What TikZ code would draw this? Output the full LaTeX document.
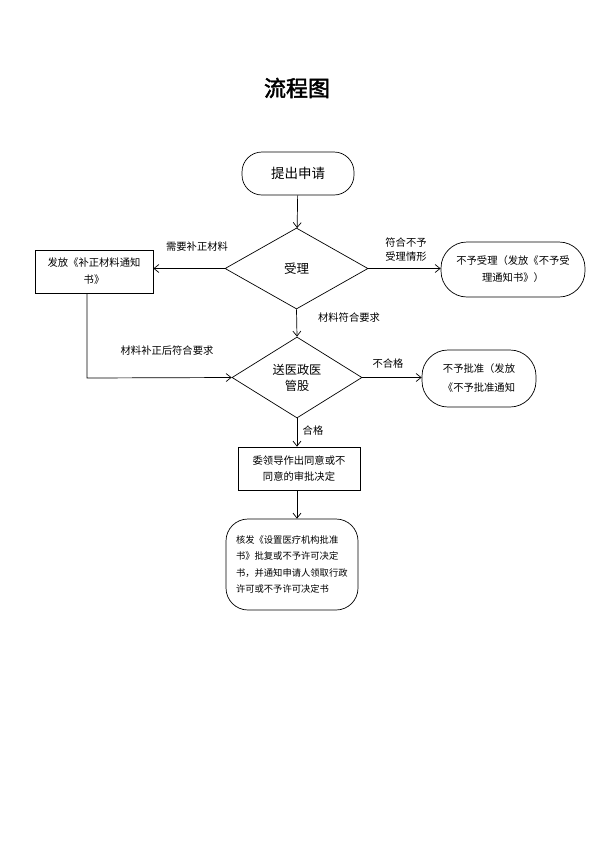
\documentclass[tikz,border=0pt]{standalone}
\usepackage{fontspec}
\setmainfont{Noto Sans CJK SC}[AutoFakeBold=2]
\usetikzlibrary{shapes.geometric,arrows.meta}
\tikzset{
  ln/.style={draw=black, line width=0.7pt},
  arr/.style={ln, -{Straight Barb[length=5pt,width=8pt]}},
  term/.style={ln, rectangle, inner sep=0pt, align=center},
  proc/.style={ln, rectangle, inner sep=0pt, align=center},
  dec/.style={ln, diamond, inner sep=0pt, align=center},
  lbl/.style={inner sep=0pt, align=center, font=\fontsize{10.3}{14}\selectfont},
  txt/.style={font=\fontsize{10.3}{17}\selectfont}
}
\begin{document}
\begin{tikzpicture}[x=1pt,y=-1pt]
\useasboundingbox (0,0) rectangle (595,841);
\node[inner sep=0pt, font=\fontsize{22}{26}\selectfont\bfseries] (title) at (297,88) {流程图};

\node[term, minimum width=112pt, minimum height=43pt, rounded corners=20pt, font=\fontsize{13.5}{16}\selectfont] (start) at (298,173.5) {提出申请};

\node[dec, minimum width=143pt, minimum height=81pt, font=\fontsize{12.5}{15}\selectfont] (d1) at (296.5,268.5) {受理};

\node[proc, minimum width=118pt, minimum height=43pt, txt, text width=110pt] (b1) at (94,271.5) {发放《补正材料通知\\书》};

\node[term, minimum width=144pt, minimum height=55pt, rounded corners=26pt, font=\fontsize{10.3}{17}\selectfont, text width=130pt] (s2) at (513,269.5) {不予受理（发放《不予受\\理通知书》）};

\node[dec, minimum width=130pt, minimum height=81pt, font=\fontsize{12.2}{16}\selectfont] (d2) at (297,377.5) {送医政医\\管股};

\node[term, minimum width=114pt, minimum height=57pt, rounded corners=26pt, font=\fontsize{10.3}{19}\selectfont, text width=100pt] (s3) at (479,378.5) {不予批准（发放\\《不予批准通知};

\node[proc, minimum width=122pt, minimum height=43pt, font=\fontsize{10.3}{16.5}\selectfont, text width=112pt] (b3) at (299,468.5) {委领导作出同意或不\\同意的审批决定};

\node[term, minimum width=132pt, minimum height=91pt, rounded corners=22pt, font=\fontsize{9.3}{16.5}\selectfont, text width=112pt, align=left] (s4) at (292,564.5) {核发《设置医疗机构批准\\书》批复或不予许可决定\\书，并通知申请人领取行政\\许可或不予许可决定书};

\coordinate (c1) at (87,378);

\draw[arr] (start) -- (d1);
\draw[arr] (d1.west) -- (b1.east |- d1.west);
\draw[arr] (d1.east) -- (s2.west |- d1.east);
\draw[arr] (d1.south) -- (d2.north);
\draw[arr] (b1.south -| c1) -- (c1) -- (d2.west);
\draw[arr] (d2.east) -- (s3.west |- d2.east);
\draw[arr] (d2.south) -- (b3.north -| d2.south);
\draw[arr] (b3.south -| d2.south) -- (s4.north -| d2.south);

\node[lbl] (l1) at (197,247) {需要补正材料};
\node[lbl] (l2) at (406,250) {符合不予\\受理情形};
\node[lbl] (l3) at (349,318) {材料符合要求};
\node[lbl] (l4) at (167,351) {材料补正后符合要求};
\node[lbl] (l5) at (388,364) {不合格};
\node[lbl] (l6) at (313,431) {合格};
\end{tikzpicture}
\end{document}
